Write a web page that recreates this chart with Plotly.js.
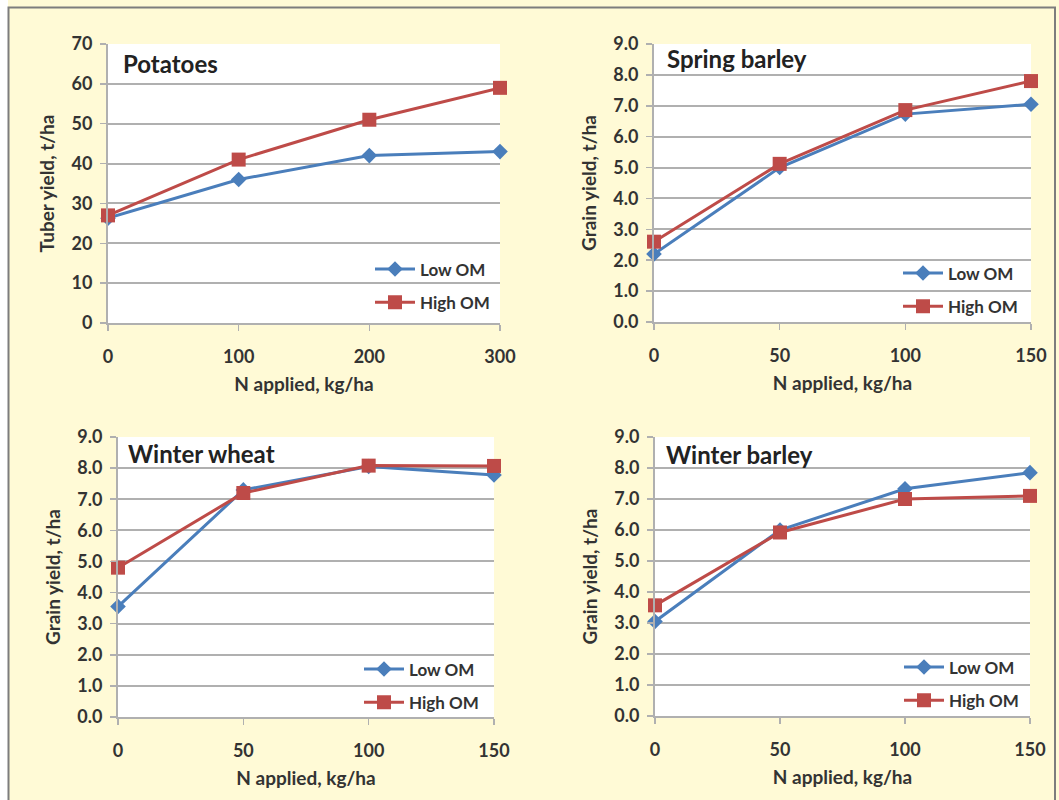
<!DOCTYPE html>
<html>
<head>
<meta charset="utf-8">
<script src="https://cdn.plot.ly/plotly-3.0.1.min.js"></script>
<style>html,body{margin:0;padding:0;background:#fffad6;}#chart{width:1059px;height:800px;}</style>
</head>
<body>
<div id="chart"></div>
<script>
// ---- data ----
const potatoN = [0, 100, 200, 300];
const potatoLow = [26.3, 36, 42, 43];
const potatoHigh = [27, 41, 51, 59];

const cerealN = [0, 50, 100, 150];
const springBarleyLow = [2.2, 5.0, 6.73, 7.05];
const springBarleyHigh = [2.6, 5.12, 6.86, 7.8];
const winterWheatLow = [3.55, 7.3, 8.05, 7.78];
const winterWheatHigh = [4.8, 7.2, 8.08, 8.07];
const winterBarleyLow = [3.05, 6.0, 7.33, 7.85];
const winterBarleyHigh = [3.57, 5.92, 7.0, 7.1];

const seriesNames = ["Low OM", "High OM"];
const panelTitles = ["Potatoes", "Spring barley", "Winter wheat", "Winter barley"];
const yTitles = ["Tuber yield, t/ha", "Grain yield, t/ha", "Grain yield, t/ha", "Grain yield, t/ha"];
const xTitle = "N applied, kg/ha";

// ---- styling ----
const W = 1059, H = 800;
const px = v => v / W;
const py = v => 1 - v / H;
const BLUE = "#4a7ebb", RED = "#be4b48";
const TXT = "#333333";
const FONT = "Lato";
const GRID = "#b0b0b0";

const panels = [
  {x: potatoN, low: potatoLow, high: potatoHigh, xr: [0, 300], xd: 100, yr: [0, 70], yd: 10, yf: "d",
   dom: {x: [108, 500], y: [44, 323]}, title: [123, 64], leg: [370, 286]},
  {x: cerealN, low: springBarleyLow, high: springBarleyHigh, xr: [0, 150], xd: 50, yr: [0, 9], yd: 1, yf: ".1f",
   dom: {x: [654, 1031], y: [44, 322]}, title: [667, 58], leg: [898, 290]},
  {x: cerealN, low: winterWheatLow, high: winterWheatHigh, xr: [0, 150], xd: 50, yr: [0, 9], yd: 1, yf: ".1f",
   dom: {x: [118, 494], y: [437, 717]}, title: [128, 453], leg: [359, 686]},
  {x: cerealN, low: winterBarleyLow, high: winterBarleyHigh, xr: [0, 150], xd: 50, yr: [0, 9], yd: 1, yf: ".1f",
   dom: {x: [655, 1030], y: [437, 716]}, title: [666, 454], leg: [899, 684]}
];

const traces = [];
const layout = {
  width: W, height: H,
  margin: {l: 0, r: 0, t: 0, b: 0},
  paper_bgcolor: "#fffad6",
  plot_bgcolor: "#ffffff",
  font: {family: FONT, color: TXT, size: 16, weight: "bold"},
  showlegend: true,
  annotations: [],
  shapes: [
    {type: "rect", xref: "paper", yref: "paper", x0: 0, x1: px(8), y0: 0, y1: 1,
     fillcolor: "#ffffff", line: {width: 0}, layer: "below"},
    {type: "rect", xref: "paper", yref: "paper", x0: px(8.5), x1: px(1055), y0: py(805), y1: py(7.5),
     fillcolor: "rgba(0,0,0,0)", line: {color: "#7d7d7d", width: 2}, layer: "below"}
  ]
};

panels.forEach((p, i) => {
  const n = i + 1;
  const xa = n === 1 ? "x" : "x" + n;
  const ya = n === 1 ? "y" : "y" + n;
  const lg = n === 1 ? "legend" : "legend" + n;
  traces.push({
    x: p.x, y: p.low, name: seriesNames[0], xaxis: xa, yaxis: ya, legend: lg,
    legendgroup: "low" + n, type: "scatter", mode: "lines+markers", cliponaxis: false,
    line: {color: BLUE, width: 3}, marker: {symbol: "diamond", size: 12, color: BLUE}
  });
  traces.push({
    x: p.x, y: p.high, name: seriesNames[1], xaxis: xa, yaxis: ya, legend: lg,
    legendgroup: "high" + n, type: "scatter", mode: "lines+markers", cliponaxis: false,
    line: {color: RED, width: 3}, marker: {symbol: "square", size: 14, color: RED}
  });
  const axx = n === 1 ? "xaxis" : "xaxis" + n;
  const axy = n === 1 ? "yaxis" : "yaxis" + n;
  layout[axx] = {
    domain: [px(p.dom.x[0]), px(p.dom.x[1])], anchor: ya,
    range: p.xr, dtick: p.xd, tick0: 0, showgrid: false, zeroline: false,
    showline: true, linecolor: GRID, linewidth: 2,
    ticks: "outside", ticklen: 6, tickcolor: GRID, tickwidth: 1.5,
    ticklabelstandoff: 10,
    tickfont: {family: FONT, size: 18, color: TXT, weight: "bold"},
    title: {text: xTitle, font: {family: FONT, size: 19, color: TXT, weight: "bold"}, standoff: 12},
    fixedrange: true
  };
  layout[axy] = {
    domain: [py(p.dom.y[1]), py(p.dom.y[0])], anchor: xa,
    range: p.yr, dtick: p.yd, tick0: 0, tickformat: p.yf,
    showgrid: true, gridcolor: GRID, gridwidth: 2, zeroline: false,
    showline: true, linecolor: GRID, linewidth: 2,
    ticks: "outside", ticklen: 6, tickcolor: GRID, tickwidth: 1.5,
    ticklabelstandoff: 4,
    tickfont: {family: FONT, size: 18, color: TXT, weight: "bold"},
    title: {text: yTitles[i], font: {family: FONT, size: 19, color: TXT, weight: "bold"}, standoff: 12},
    fixedrange: true
  };
  layout[lg] = {
    x: px(p.leg[0]), y: py(p.leg[1]), xanchor: "left", yanchor: "middle",
    bgcolor: "rgba(0,0,0,0)", borderwidth: 0,
    font: {family: FONT, size: 17, color: TXT, weight: "bold"},
    traceorder: "grouped", tracegroupgap: 8, itemwidth: 40
  };
  layout.annotations.push({
    text: panelTitles[i], xref: "paper", yref: "paper",
    x: px(p.title[0] - 2), y: py(p.title[1]), xanchor: "left", yanchor: "middle",
    showarrow: false, font: {family: FONT, size: 24, color: "#222222", weight: "bold"}
  });
});

Plotly.newPlot("chart", traces, layout, {displayModeBar: false, staticPlot: true});
</script>
</body>
</html>
